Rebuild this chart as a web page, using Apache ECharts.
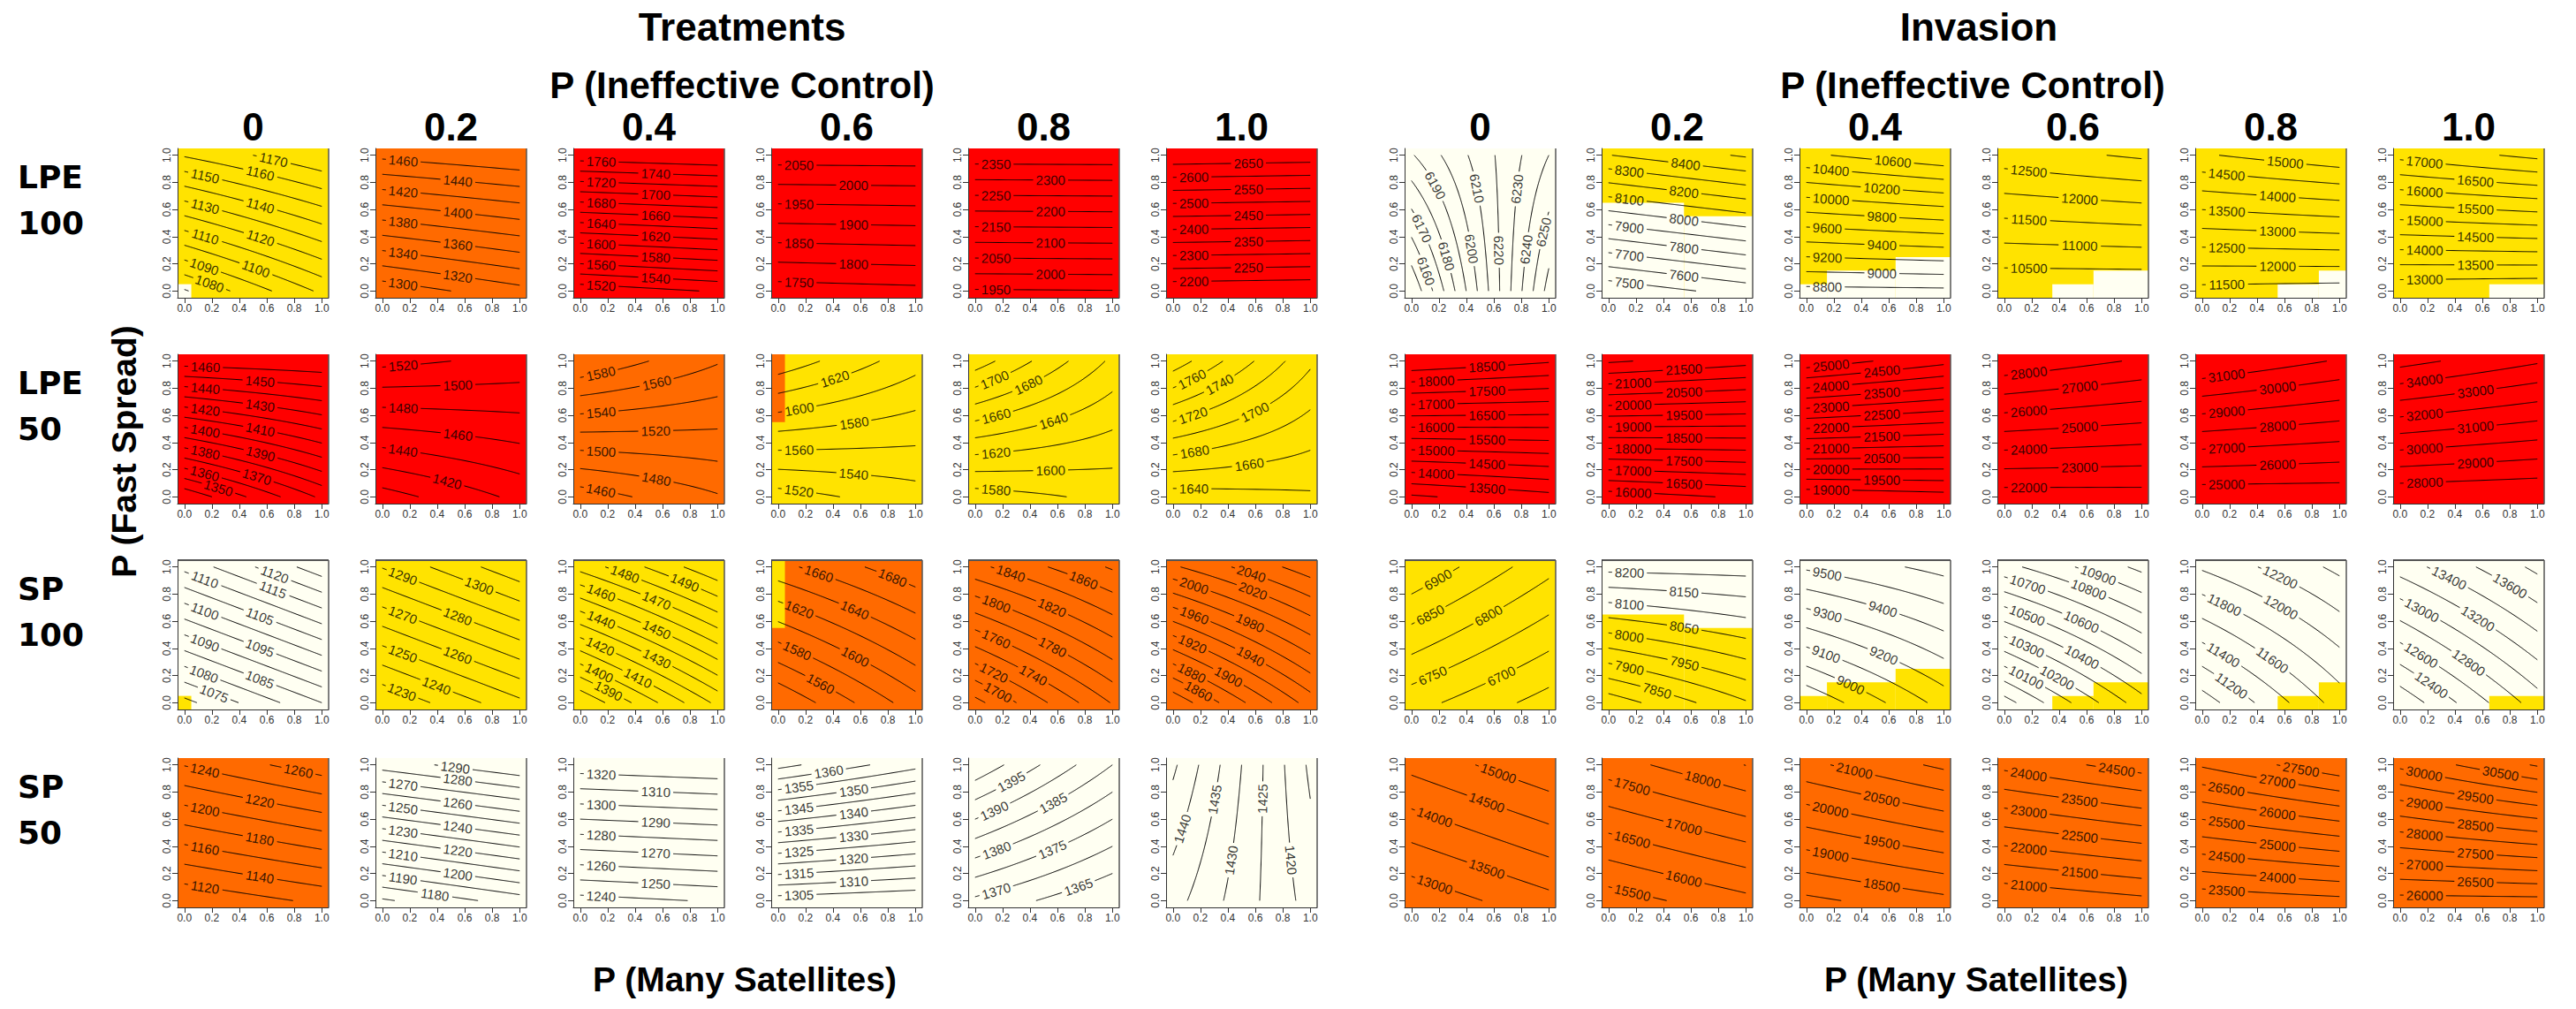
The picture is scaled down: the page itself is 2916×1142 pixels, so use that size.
<!DOCTYPE html>
<html>
<head>
<meta charset="utf-8">
<title>Treatments and Invasion contour panels</title>
<script src="https://cdn.jsdelivr.net/npm/echarts@6/dist/echarts.min.js"></script>
<style>
  html, body { margin: 0; padding: 0; background: #fff; }
  #chart { width: 2916px; height: 1142px; }
</style>
</head>
<body>
<div id="chart"></div>
<script>
// rows = scenario, columns = P (Ineffective Control)
const rowLabels = [['LPE', '100'], ['LPE', '50'], ['SP', '100'], ['SP', '50']];
const controlLabels = ['0', '0.2', '0.4', '0.6', '0.8', '1.0'];
const tickValues = [0, 0.2, 0.4, 0.6, 0.8, 1.0];

// surface of each panel read at its corners: [z(0,0), z(1,0), z(0,1), z(1,1)]
// x = P (Many Satellites), y = P (Fast Spread)
const treatCorners = [
  [[1069, 1102, 1161, 1179], [1287, 1313, 1465, 1478], [1507, 1522, 1771, 1779], [1726, 1736, 2075, 2077], [1945, 1948, 2378, 2380], [2164, 2157, 2685, 2677]],
  [[1332, 1372, 1465, 1468], [1391, 1425, 1526, 1514], [1449, 1478, 1598, 1562], [1511, 1531, 1654, 1608], [1570, 1585, 1731, 1656], [1630, 1637, 1792, 1704]],
  [[1068.5, 1085, 1111.5, 1128], [1220.6, 1247.6, 1290.6, 1317.6], [1370.6, 1422.6, 1473.6, 1508.6], [1520.6, 1591.4, 1653.6, 1695.4], [1673.5, 1761.5, 1834.5, 1882.5], [1825, 1929, 2017, 2071]],
  [[1103, 1124.5, 1241, 1271.5], [1168.5, 1185, 1284.5, 1299], [1236.4, 1241, 1325.7, 1329], [1302.7, 1300.7, 1366.7, 1356.7], [1369, 1360, 1404, 1385], [1437, 1418, 1446, 1414]]
];
const invCorners = [
  [[6141, 6264, 6189, 6240], [7426, 7542, 8397, 8513], [8740, 8756, 10566, 10756], [10036, 10012, 12768, 13079], [11334, 11258, 14948, 15368], [12624, 12525, 17149, 17634]],
  [[12922, 13333, 18920, 18553], [15740, 16074, 22070, 21679], [18631, 18801, 25331, 24651], [21496, 21558, 28776, 27871], [24304, 24317, 31990, 30900], [27181, 27019, 35368, 34131]],
  [[6720, 6629, 6945, 6816], [7770, 7895, 8217, 8222], [8810, 9139, 9516, 9633], [9856, 10356, 10766, 11026], [10897, 11690, 12029, 12450], [12050, 12900, 13290, 13850]],
  [[12640, 13337, 14652, 15400], [15242, 15851, 17774, 18511], [17880, 18353, 20870, 21610], [20539, 20866, 24149, 24736], [23165, 23365, 27065, 27865], [25825, 25855, 30121, 31051]]
];

// contour interval of each panel
const treatSteps = [[10, 20, 20, 50, 50, 50], [10, 20, 20, 20, 20, 20], [5, 10, 10, 20, 20, 20], [20, 10, 10, 5, 5, 5]];
const invSteps = [[10, 100, 200, 500, 500, 500], [500, 500, 500, 1000, 1000, 1000], [50, 50, 100, 100, 200, 200], [500, 500, 500, 500, 500, 500]];

// background class of each panel (Y yellow, O orange, R red, W white)
const treatFill = ['YORRRR', 'RROYYY', 'WYYOOO', 'OWWWWW'];
const invFill = ['WYYYYY', 'RRRRRR', 'YWWWWW', 'OOOOOO'];

// cells of a second class: [block, row, col, class, side, cells in each column x = 0, 0.1 .. 1]
const fillPatches = [
  ['treat', 0, 0, 'W', 'bottom', [1, 0, 0, 0, 0, 0, 0, 0, 0, 0, 0]],
  ['treat', 1, 3, 'O', 'top', [5, 0, 0, 0, 0, 0, 0, 0, 0, 0, 0]],
  ['treat', 2, 0, 'Y', 'bottom', [1, 0, 0, 0, 0, 0, 0, 0, 0, 0, 0]],
  ['treat', 2, 3, 'Y', 'top', [5, 0, 0, 0, 0, 0, 0, 0, 0, 0, 0]],
  ['inv', 0, 1, 'W', 'bottom', [7, 7, 7, 7, 7, 7, 6, 6, 6, 6, 6]],
  ['inv', 0, 2, 'W', 'bottom', [1, 1, 2, 2, 2, 2, 2, 3, 3, 3, 3]],
  ['inv', 0, 3, 'W', 'bottom', [0, 0, 0, 0, 1, 1, 1, 2, 2, 2, 2]],
  ['inv', 0, 4, 'W', 'bottom', [0, 0, 0, 0, 0, 0, 1, 1, 1, 2, 2]],
  ['inv', 0, 5, 'W', 'bottom', [0, 0, 0, 0, 0, 0, 0, 1, 1, 1, 1]],
  ['inv', 2, 1, 'Y', 'bottom', [7, 7, 7, 7, 7, 7, 6, 6, 6, 6, 6]],
  ['inv', 2, 2, 'Y', 'bottom', [1, 1, 2, 2, 2, 2, 2, 3, 3, 3, 3]],
  ['inv', 2, 3, 'Y', 'bottom', [0, 0, 0, 0, 1, 1, 1, 2, 2, 2, 2]],
  ['inv', 2, 4, 'Y', 'bottom', [0, 0, 0, 0, 0, 0, 1, 1, 1, 2, 2]],
  ['inv', 2, 5, 'Y', 'bottom', [0, 0, 0, 0, 0, 0, 0, 1, 1, 1, 1]]
];

// layout
const PANEL_W = 171, PANEL_H = 169;
const rowTop = [168, 401, 634, 858];
const treatLeft = [201, 425, 649, 873, 1096, 1320];
const invLeft = [1590, 1813, 2037, 2261, 2485, 2709];
const COLORS = { Y: '#FFE300', O: '#FF6A00', R: '#FF0000', W: '#FFFFF2' };
const COLOR_KEYS = ['Y', 'O', 'R', 'W'];
const LABEL_SIZE = 15;
const SX = PANEL_W / 1.1, SY = PANEL_H / 1.1;   // px per data unit

// contour of the bilinear surface at one level, as polylines in data units
function traceLevel(c, level, byX) {
  const solve = t => {
    let A, B;
    if (byX) { A = c[0] * (1 - t) + c[1] * t; B = (c[2] - c[0]) * (1 - t) + (c[3] - c[1]) * t; }
    else { A = c[0] * (1 - t) + c[2] * t; B = (c[1] - c[0]) * (1 - t) + (c[3] - c[2]) * t; }
    return B === 0 ? NaN : (level - A) / B;
  };
  const inside = u => u >= 0 && u <= 1;
  const pt = (t, u) => byX ? [t, u] : [u, t];
  const N = 160;
  const segs = [];
  let cur = [], prevIn = false, prevT = 0;
  for (let i = 0; i <= N; i++) {
    const t = i / N, u = solve(t), isIn = inside(u);
    if (i > 0 && isIn !== prevIn) {
      // find where the line meets the panel edge
      let a = prevT, b = t;
      for (let k = 0; k < 30; k++) {
        const m = (a + b) / 2;
        if (inside(solve(m)) === prevIn) a = m; else b = m;
      }
      const tb = prevIn ? a : b;
      const ub = Math.min(1, Math.max(0, solve(tb)));
      if (prevIn) { cur.push(pt(tb, ub)); segs.push(cur); cur = []; }
      else cur = [pt(tb, ub)];
    }
    if (isIn) cur.push(pt(t, u));
    prevIn = isIn; prevT = t;
  }
  if (cur.length) segs.push(cur);
  return segs.filter(s => s.length > 1);
}

// cut a gap in the line for its label, R style
function splitForLabel(seg, text, frac) {
  const cum = [0];
  for (let i = 1; i < seg.length; i++) {
    cum.push(cum[i - 1] + Math.hypot((seg[i][0] - seg[i - 1][0]) * SX, (seg[i][1] - seg[i - 1][1]) * SY));
  }
  const total = cum[cum.length - 1];
  const w = text.length * 0.56 * LABEL_SIZE + 6;
  if (total < w + 12) return { parts: [seg], label: null };
  const s = Math.min(Math.max(frac * total, w / 2 + 4), total - w / 2 - 4);
  const at = d => {
    let i = 1;
    while (i < cum.length - 1 && cum[i] < d) i++;
    const r = (d - cum[i - 1]) / ((cum[i] - cum[i - 1]) || 1);
    return [seg[i - 1][0] + r * (seg[i][0] - seg[i - 1][0]), seg[i - 1][1] + r * (seg[i][1] - seg[i - 1][1])];
  };
  const s0 = s - w / 2, s1 = s + w / 2;
  const p0 = at(s0), p1 = at(s1), pc = at(s);
  const before = seg.filter((p, i) => cum[i] < s0).concat([p0]);
  const after = [p1].concat(seg.filter((p, i) => cum[i] > s1));
  let ang = Math.atan2((p1[1] - p0[1]) * SY, (p1[0] - p0[0]) * SX) * 180 / Math.PI;
  if (ang > 90) ang -= 180;
  if (ang < -90) ang += 180;
  return {
    parts: [before, after].filter(p => p.length > 1),
    label: { value: [pc[0], pc[1], text], label: { rotate: ang } }
  };
}

function contourPanel(c, step) {
  const zmin = Math.min(...c), zmax = Math.max(...c);
  const byX = Math.abs(c[2] - c[0]) + Math.abs(c[3] - c[1]) >= Math.abs(c[1] - c[0]) + Math.abs(c[3] - c[2]);
  const fracs = byX ? [0.15, 0.55] : [0.75, 0.3];
  const lines = [], labels = [];
  let k = 0;
  for (let lv = Math.ceil(zmin / step) * step; lv <= zmax; lv += step, k++) {
    const segs = traceLevel(c, lv, byX);
    if (!segs.length) continue;
    let longest = 0;
    segs.forEach((s, i) => { if (s.length > segs[longest].length) longest = i; });
    segs.forEach((s, i) => {
      if (i !== longest) { lines.push({ coords: s }); return; }
      const res = splitForLabel(s, String(lv), fracs[k % 2]);
      res.parts.forEach(p => lines.push({ coords: p }));
      if (res.label) labels.push(res.label);
    });
  }
  return { lines, labels };
}

function fillCells(base, patch) {
  const cells = [[-0.05, 1.05, -0.05, 1.05, COLOR_KEYS.indexOf(base)]];
  if (patch) {
    const side = patch[4], counts = patch[5], ci = COLOR_KEYS.indexOf(patch[3]);
    let i = 0;
    while (i < counts.length) {
      let j = i;
      while (j + 1 < counts.length && counts[j + 1] === counts[i]) j++;
      const n = counts[i];
      if (n > 0) {
        const x0 = i / 10 - 0.05, x1 = j / 10 + 0.05;
        const y0 = side === 'bottom' ? -0.05 : 1.05 - n / 10;
        const y1 = side === 'bottom' ? -0.05 + n / 10 : 1.05;
        cells.push([x0, x1, y0, y1, ci]);
      }
      i = j + 1;
    }
  }
  // last item: the dark frame edge on the right (and top in some rows)
  cells.push([-0.05, 1.05, -0.05, 1.05, -1]);
  return cells;
}

function makeRenderer(topEdge) {
  return function (params, api) {
    if (api.value(4) < 0) {
      const cs = params.coordSys;
      const edges = [{
        type: 'line',
        shape: { x1: cs.x + cs.width, y1: cs.y, x2: cs.x + cs.width, y2: cs.y + cs.height },
        style: { stroke: '#555', lineWidth: 1.5 }
      }];
      if (topEdge) {
        edges.push({
          type: 'line',
          shape: { x1: cs.x, y1: cs.y, x2: cs.x + cs.width, y2: cs.y },
          style: { stroke: '#555', lineWidth: 2 }
        });
      }
      return { type: 'group', children: edges };
    }
    const a = api.coord([api.value(0), api.value(3)]);
    const b = api.coord([api.value(1), api.value(2)]);
    return {
      type: 'rect',
      shape: { x: a[0], y: a[1], width: b[0] - a[0], height: b[1] - a[1] },
      style: { fill: COLORS[COLOR_KEYS[api.value(4)]] }
    };
  };
}

function axis(gi, isY) {
  return {
    type: 'value', gridIndex: gi, min: -0.05, max: 1.05, z: 10,
    axisLine: { show: true, onZero: false, lineStyle: { color: '#333', width: 1 } },
    axisTick: { show: true, customValues: tickValues, length: 6, lineStyle: { color: '#333' } },
    axisLabel: {
      customValues: tickValues, formatter: v => v.toFixed(1), fontSize: 12, color: '#333',
      margin: 6, rotate: isY ? 90 : 0, fontFamily: 'Liberation Sans'
    },
    splitLine: { show: false }
  };
}

const grids = [], xAxes = [], yAxes = [], series = [];
const blocks = [
  { name: 'treat', left: treatLeft, corners: treatCorners, steps: treatSteps, fill: treatFill },
  { name: 'inv', left: invLeft, corners: invCorners, steps: invSteps, fill: invFill }
];
let gi = 0;
blocks.forEach(b => {
  for (let r = 0; r < 4; r++) {
    for (let col = 0; col < 6; col++) {
      grids.push({ left: b.left[col], top: rowTop[r], width: PANEL_W, height: PANEL_H });
      xAxes.push(axis(gi, false));
      yAxes.push(axis(gi, true));
      const patch = fillPatches.find(p => p[0] === b.name && p[1] === r && p[2] === col);
      series.push({
        type: 'custom', xAxisIndex: gi, yAxisIndex: gi, renderItem: makeRenderer(r === 2),
        encode: { x: [0, 1], y: [2, 3] }, data: fillCells(b.fill[r][col], patch), silent: true, z: 1
      });
      const cp = contourPanel(b.corners[r][col], b.steps[r][col]);
      series.push({
        type: 'lines', coordinateSystem: 'cartesian2d', xAxisIndex: gi, yAxisIndex: gi,
        polyline: true, data: cp.lines, silent: true, z: 2,
        lineStyle: { color: '#000', width: 1, opacity: 1 }
      });
      series.push({
        type: 'scatter', xAxisIndex: gi, yAxisIndex: gi, symbolSize: 0.1, data: cp.labels, silent: true, z: 3,
        itemStyle: { color: 'transparent' },
        label: {
          show: true, position: 'inside', formatter: p => p.value[2],
          fontSize: LABEL_SIZE, color: '#000', fontFamily: 'Liberation Sans'
        }
      });
      gi++;
    }
  }
});

// headings and axis titles
const texts = [];
function addText(text, x, y, font, align, rotation) {
  texts.push({
    type: 'text', x, y, rotation: rotation || 0, z: 20,
    style: { text, font, fill: '#000', textAlign: align || 'center', textVerticalAlign: 'middle' }
  });
}
const titleFont = 'bold 44px "Liberation Sans"';
const labelFont = 'bold 42px "Liberation Sans"';
const colFont = 'bold 44px "Liberation Sans"';
const sideFont = 'bold 39px "Liberation Sans"';
const rowFont = 'bold 36px "DejaVu Sans"';
addText('Treatments', 840, 30, titleFont);
addText('Invasion', 2240, 30, titleFont);
addText('P (Ineffective Control)', 840, 96, labelFont);
addText('P (Ineffective Control)', 2233, 96, labelFont);
controlLabels.forEach((t, i) => {
  addText(t, treatLeft[i] + PANEL_W / 2, 143, colFont);
  addText(t, invLeft[i] + PANEL_W / 2, 143, colFont);
});
rowLabels.forEach((pair, r) => {
  addText(pair[0], 20, rowTop[r] + 32, rowFont, 'left');
  addText(pair[1], 20, rowTop[r] + 84, rowFont, 'left');
});
addText('P (Fast Spread)', 140, 511, sideFont, 'center', Math.PI / 2);
addText('P (Many Satellites)', 843, 1108, sideFont);
addText('P (Many Satellites)', 2237, 1108, sideFont);

const chart = echarts.init(document.getElementById('chart'), null, { renderer: 'svg' });
chart.setOption({
  animation: false,
  backgroundColor: '#ffffff',
  grid: grids,
  xAxis: xAxes,
  yAxis: yAxes,
  series: series,
  graphic: texts
});
</script>
</body>
</html>
